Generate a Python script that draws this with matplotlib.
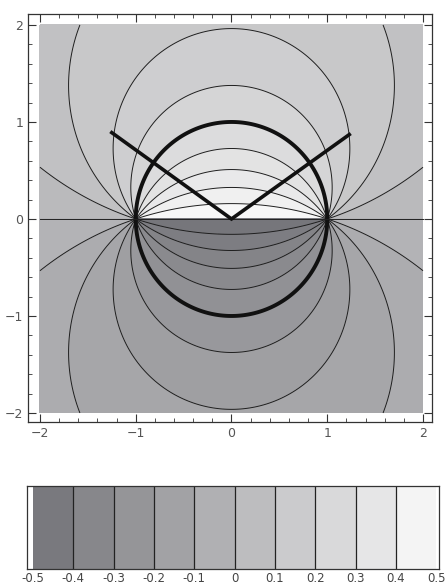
import matplotlib
matplotlib.use('Agg')
import matplotlib.pyplot as plt
import numpy as np
from matplotlib.colors import LinearSegmentedColormap, Normalize

# niveles de contorno (paso 0.05) y bandas de la barra de colores (paso 0.1)
niveles_sup = [0.05, 0.1, 0.15, 0.2, 0.3, 0.35, 0.4, 0.45]
niveles_inf = [-0.45, -0.4, -0.35, -0.3, -0.2, -0.15, -0.1, -0.05]
nivel_circulo = 0.25
niveles_relleno = [-0.5, -0.45, -0.4, -0.35, -0.3, -0.25, -0.2, -0.15, -0.1, -0.05, 0.0,
                   0.05, 0.1, 0.15, 0.2, 0.25, 0.3, 0.35, 0.4, 0.45, 0.5]
bordes_barra = [-0.5, -0.4, -0.3, -0.2, -0.1, 0.0, 0.1, 0.2, 0.3, 0.4, 0.5]
etiquetas_barra = ['-0.5', '-0.4', '-0.3', '-0.2', '-0.1', '0', '0.1', '0.2', '0.3', '0.4', '0.5']

# linea en V (gruesa)
v_x = [-1.25, 0.0, 1.23]
v_y = [0.89, 0.0, 0.87]

# campo: angulo arg((z-1)/(z+1)) / 2pi, calculado por semiplanos
x = np.linspace(-2, 2, 600)
y_sup = np.linspace(0, 2, 300)
Xs, Ys = np.meshgrid(x, y_sup)
Zs = Xs + 1j * Ys
campo_sup = np.angle((Zs - 1) / (Zs + 1)) / (2 * np.pi)
Yi = -Ys
campo_inf = -campo_sup

grises = LinearSegmentedColormap.from_list('grises', [(0.45, 0.45, 0.47), (0.98, 0.98, 0.98)])
norma = Normalize(-0.5, 0.5)

fig = plt.figure(figsize=(4.46, 5.85), dpi=100)
ax = fig.add_axes([28/446, 1 - 422/585, 404/446, 408/585])
for Yg, campo, niveles, nc in [(Ys, campo_sup, niveles_sup, nivel_circulo),
                               (Yi, campo_inf, niveles_inf, -nivel_circulo)]:
    ax.contourf(Xs, Yg, campo, levels=niveles_relleno, cmap=grises, norm=norma)
    ax.contour(Xs, Yg, campo, levels=niveles, colors='#1e1e1e', linewidths=0.7,
               linestyles='solid')
    ax.contour(Xs, Yg, campo, levels=[nc], colors='#111111', linewidths=2.8,
               linestyles='solid')
# eje real (nivel 0 / corte)
ax.plot(x, np.zeros_like(x), color='#222222', lw=0.7)
ax.plot(v_x, v_y, color='#111111', lw=2.6, solid_joinstyle='miter')

ax.set_xlim(-2.125, 2.094)
ax.set_ylim(-2.093, 2.113)
ax.set_xticks([-2, -1, 0, 1, 2])
ax.set_yticks([-2, -1, 0, 1, 2])
ax.set_xticks(np.arange(-2, 2.01, 0.2), minor=True)
ax.set_yticks(np.arange(-2, 2.01, 0.2), minor=True)
ax.tick_params(which='both', direction='in', top=True, right=True, color='#333333',
               labelsize=9, labelcolor='#555555')
ax.tick_params(which='major', length=6, width=0.8)
ax.tick_params(which='minor', length=3, width=0.6)
ax.set_xticklabels(['\u22122', '\u22121', '0', '1', '2'])
ax.set_yticklabels(['\u22122', '\u22121', '0', '1', '2'])
for s in ax.spines.values():
    s.set_color('#333333')
    s.set_linewidth(0.9)

# barra de colores
cb = fig.add_axes([27/446, 1 - 569/585, 412/446, 83/585])
centros = [(a + b) / 2 for a, b in zip(bordes_barra[:-1], bordes_barra[1:])]
cb.pcolormesh(bordes_barra, [0, 1], np.array([centros]), cmap=grises, norm=norma)
cb.vlines(bordes_barra[1:-1], 0, 1, colors='#222222', lw=0.9)
cb.set_xlim(-0.515, 0.507)
cb.set_ylim(0, 1)
cb.set_yticks([])
cb.set_xticks(bordes_barra)
cb.set_xticklabels(etiquetas_barra)
cb.tick_params(axis='x', length=0, pad=2, labelsize=8.5, labelcolor='#444444')
for s in cb.spines.values():
    s.set_color('#333333')
    s.set_linewidth(0.9)

fig.savefig('out.png', dpi=100)
